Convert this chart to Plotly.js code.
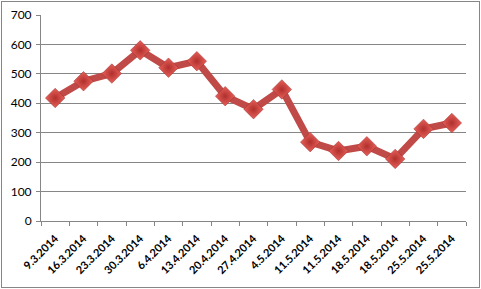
<!DOCTYPE html>
<html>
<head>
<meta charset="utf-8">
<script src="https://cdn.plot.ly/plotly-3.0.1.min.js"></script>
<style>
html,body{margin:0;padding:0;background:#fff;}
#frame{position:absolute;left:1px;top:1px;width:477px;height:285px;border:1px solid #868686;}
#chart{width:477px;height:285px;}
</style>
</head>
<body>
<div id="frame"><div id="chart"></div></div>
<script>
const dateLabels = ["9.3.2014","16.3.2014","23.3.2014","30.3.2014","6.4.2014","13.4.2014","20.4.2014","27.4.2014","4.5.2014","11.5.2014","11.5.2014","18.5.2014","18.5.2014","25.5.2014","25.5.2014"];
const values = [418, 475, 501, 580, 521, 543, 424, 380, 447, 268, 238, 254, 211, 313, 333];
const positions = dateLabels.map((_, i) => i);
const boundaries = dateLabels.map((_, i) => i - 0.5).concat([dateLabels.length - 0.5]);
const yTicks = [0, 100, 200, 300, 400, 500, 600, 700];

const trace = {
  x: positions,
  y: values,
  type: 'scatter',
  mode: 'lines+markers',
  line: {color: '#bf4a47', width: 7},
  marker: {
    symbol: 'diamond',
    size: 15,
    color: '#e8605a',
    gradient: {type: 'radial', color: '#b0302d'},
    line: {color: '#9c2c2a', width: 0.5}
  },
  hoverinfo: 'skip'
};

const layout = {
  width: 477,
  height: 285,
  margin: {l: 39, r: 13, t: 12.5, b: 66},
  paper_bgcolor: '#ffffff',
  plot_bgcolor: '#ffffff',
  showlegend: false,
  font: {family: 'Lato, "Liberation Sans", sans-serif', color: '#000'},
  xaxis: {
    range: [-0.5, dateLabels.length - 0.5],
    tickmode: 'array',
    tickvals: positions,
    ticktext: dateLabels,
    tickangle: -45,
    ticks: '',
    ticklabelstandoff: 6,
    tickfont: {size: 11, family: 'Lato, "Liberation Sans", sans-serif', weight: 'bold', color: '#000'},
    showgrid: false,
    zeroline: false,
    showline: true,
    linecolor: '#868686',
    linewidth: 1,
    minor: {tickmode: 'array', tickvals: boundaries, ticks: 'outside', ticklen: 4, tickcolor: '#868686', tickwidth: 1, showgrid: false},
    fixedrange: true
  },
  yaxis: {
    range: [0, 700],
    tickmode: 'array',
    tickvals: yTicks,
    ticks: 'outside',
    ticklen: 4,
    tickcolor: '#868686',
    tickfont: {size: 12, color: '#000'},
    ticklabelstandoff: 2,
    showgrid: true,
    gridcolor: '#868686',
    gridwidth: 1,
    zeroline: false,
    showline: true,
    linecolor: '#868686',
    linewidth: 1,
    fixedrange: true
  }
};

Plotly.newPlot('chart', [trace], layout, {displayModeBar: false, staticPlot: true});
</script>
</body>
</html>
